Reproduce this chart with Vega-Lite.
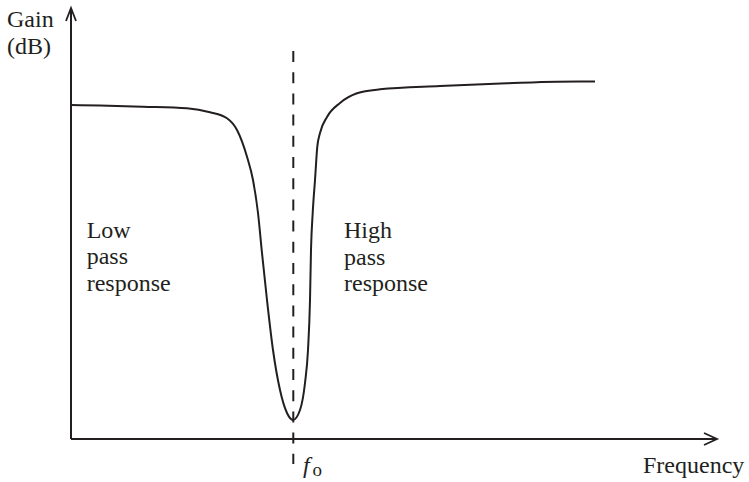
{
  "$schema": "https://vega.github.io/schema/vega-lite/v6.json",
  "width": 749,
  "height": 482,
  "padding": 0,
  "autosize": {"type": "none"},
  "background": "white",
  "config": {"view": {"stroke": null}},
  "datasets": {
    "axes": [
      {"f1": 0, "f2": 646, "g1": 0, "g2": 0},
      {"f1": 0, "f2": 0, "g1": 0, "g2": 431}
    ],
    "arrows": [
      {"arrow": "x", "i": 0, "freq": 633, "gain": 6},
      {"arrow": "x", "i": 1, "freq": 646, "gain": 0},
      {"arrow": "x", "i": 2, "freq": 633, "gain": -6},
      {"arrow": "y", "i": 0, "freq": -5, "gain": 418},
      {"arrow": "y", "i": 1, "freq": 0, "gain": 431},
      {"arrow": "y", "i": 2, "freq": 5, "gain": 418}
    ],
    "curve": [
      {"freq": 0, "gain": 334},
      {"freq": 29, "gain": 333.5},
      {"freq": 72, "gain": 332.3},
      {"freq": 116, "gain": 330.7},
      {"freq": 139, "gain": 326.7},
      {"freq": 156, "gain": 320.7},
      {"freq": 166, "gain": 309},
      {"freq": 176, "gain": 282.3},
      {"freq": 182, "gain": 259},
      {"freq": 187, "gain": 226},
      {"freq": 191, "gain": 186},
      {"freq": 196, "gain": 139},
      {"freq": 202, "gain": 89},
      {"freq": 209, "gain": 49},
      {"freq": 216, "gain": 26},
      {"freq": 222, "gain": 19},
      {"freq": 229, "gain": 29},
      {"freq": 234, "gain": 56},
      {"freq": 237, "gain": 89},
      {"freq": 239, "gain": 139},
      {"freq": 240, "gain": 189},
      {"freq": 241.7, "gain": 226},
      {"freq": 244, "gain": 259},
      {"freq": 246.3, "gain": 292.3},
      {"freq": 249, "gain": 306},
      {"freq": 256, "gain": 322},
      {"freq": 269, "gain": 336},
      {"freq": 286, "gain": 345.7},
      {"freq": 309, "gain": 349.7},
      {"freq": 369, "gain": 353},
      {"freq": 436, "gain": 355.7},
      {"freq": 486, "gain": 357.3},
      {"freq": 524, "gain": 357.5}
    ],
    "fo": [{"freq": 222.3, "top": 388, "bottom": -25}],
    "labels": [
      {"freq": -64, "gain": 411.7, "text": "Gain\n(dB)"},
      {"freq": 15.7, "gain": 201.3, "text": "Low\npass\nresponse"},
      {"freq": 273, "gain": 200.7, "text": "High\npass\nresponse"},
      {"freq": 572, "gain": -34.3, "text": "Frequency"}
    ],
    "fsym": [{"freq": 232, "gain": -34, "text": "f"}],
    "osym": [{"freq": 241.5, "gain": -37, "text": "o"}]
  },
  "resolve": {"scale": {"x": "shared", "y": "shared"}},
  "layer": [
    {
      "data": {"name": "axes"},
      "mark": {"type": "rule", "strokeWidth": 2, "color": "#231f20"},
      "encoding": {
        "x": {"field": "f1", "type": "quantitative", "scale": {"domain": [-71, 678], "nice": false, "zero": false}, "axis": null},
        "x2": {"field": "f2"},
        "y": {"field": "g1", "type": "quantitative", "scale": {"domain": [-43, 439], "nice": false, "zero": false}, "axis": null},
        "y2": {"field": "g2"}
      }
    },
    {
      "data": {"name": "arrows"},
      "mark": {"type": "line", "strokeWidth": 1.8, "color": "#231f20"},
      "encoding": {
        "x": {"field": "freq", "type": "quantitative"},
        "y": {"field": "gain", "type": "quantitative"},
        "detail": {"field": "arrow"},
        "order": {"field": "i"}
      }
    },
    {
      "data": {"name": "fo"},
      "mark": {"type": "rule", "strokeWidth": 2, "strokeDash": [11, 10.2], "color": "#231f20"},
      "encoding": {
        "x": {"field": "freq", "type": "quantitative"},
        "y": {"field": "top", "type": "quantitative"},
        "y2": {"field": "bottom"}
      }
    },
    {
      "data": {"name": "curve"},
      "mark": {"type": "line", "strokeWidth": 2, "color": "#231f20", "interpolate": "monotone"},
      "encoding": {
        "x": {"field": "freq", "type": "quantitative"},
        "y": {"field": "gain", "type": "quantitative"}
      }
    },
    {
      "data": {"name": "labels"},
      "mark": {"type": "text", "font": "Liberation Serif", "fontSize": 24, "align": "left", "baseline": "alphabetic", "lineBreak": "\n", "lineHeight": 26.5, "color": "#231f20"},
      "encoding": {
        "x": {"field": "freq", "type": "quantitative"},
        "y": {"field": "gain", "type": "quantitative"},
        "text": {"field": "text"}
      }
    },
    {
      "data": {"name": "fsym"},
      "mark": {"type": "text", "font": "Liberation Serif", "fontSize": 24, "fontStyle": "italic", "align": "left", "baseline": "alphabetic", "color": "#231f20"},
      "encoding": {
        "x": {"field": "freq", "type": "quantitative"},
        "y": {"field": "gain", "type": "quantitative"},
        "text": {"field": "text"}
      }
    },
    {
      "data": {"name": "osym"},
      "mark": {"type": "text", "font": "Liberation Serif", "fontSize": 19, "align": "left", "baseline": "alphabetic", "color": "#231f20"},
      "encoding": {
        "x": {"field": "freq", "type": "quantitative"},
        "y": {"field": "gain", "type": "quantitative"},
        "text": {"field": "text"}
      }
    }
  ]
}
